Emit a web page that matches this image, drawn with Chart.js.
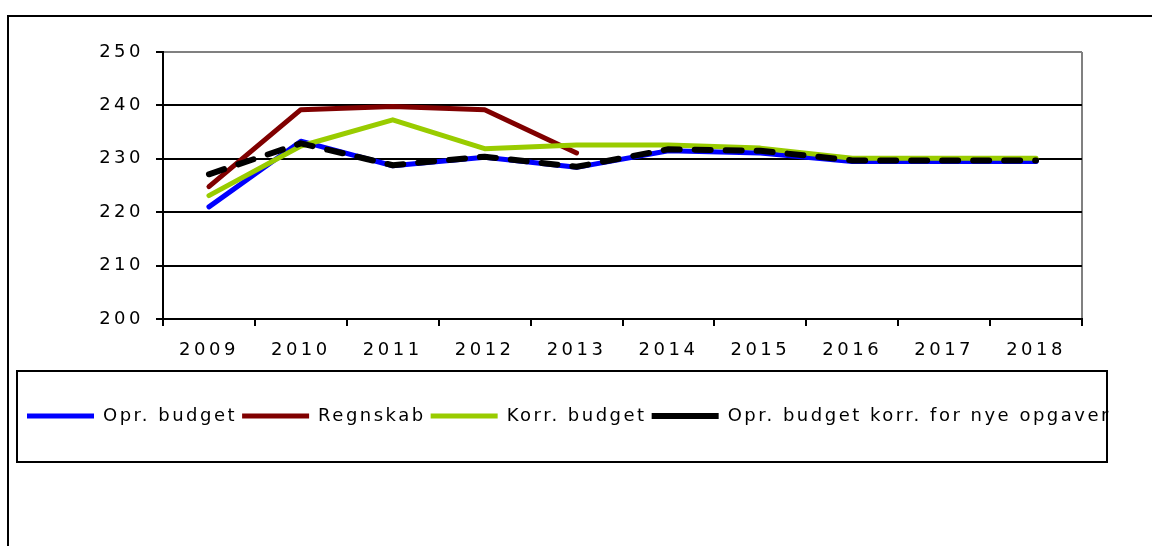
<!DOCTYPE html>
<html lang="da">
<head>
    <meta charset="UTF-8">
    <title>Opr. budget, regnskab og korr. budget</title>
    <script src="https://cdn.jsdelivr.net/npm/chart.js"></script>
    <style>
        body { margin: 0; background: #fff; }
        .wrap { position: relative; width: 1152px; height: 546px; overflow: hidden; }
        .ramme { position: absolute; left: 7px; top: 15px; width: 1300px; height: 700px; border: 2px solid #000; }
        #graf { position: absolute; left: 0; top: 0; }
    </style>
</head>
<body>
    <div class="wrap">
        <div class="ramme"></div>
        <canvas id="graf" width="1152" height="546"></canvas>
    </div>

    <script>
        const aar = ["2009", "2010", "2011", "2012", "2013", "2014", "2015", "2016", "2017", "2018"];
        const oprBudget = [221.0, 233.3, 228.7, 230.3, 228.4, 231.5, 231.1, 229.5, 229.5, 229.5];
        const regnskab = [224.8, 239.2, 239.8, 239.2, 231.1, null, null, null, null, null];
        const korrBudget = [223.1, 232.4, 237.3, 231.9, 232.6, 232.6, 232.0, 230.1, 230.1, 230.1];
        const oprKorrNye = [227.1, 232.9, 228.8, 230.4, 228.5, 231.8, 231.5, 229.7, 229.7, 229.7];
        const yTicks = [200, 210, 220, 230, 240, 250];

        const skrift = '"DejaVu Sans", Verdana, sans-serif';

        // bredere tegnafstand som i originalen
        const afstand = {
            id: 'afstand',
            beforeUpdate(chart) { chart.ctx.letterSpacing = '2.5px'; },
            beforeDraw(chart) {
                chart.ctx.letterSpacing = '2.5px';
                ['x', 'y'].forEach(id => {
                    const s = chart.scales[id];
                    if (s._spaced) return;
                    const tegn = s.drawLabels;
                    s.drawLabels = function (area) {
                        this.ctx.save();
                        this.ctx.letterSpacing = '3.5px';
                        tegn.call(this, area);
                        this.ctx.restore();
                    };
                    s._spaced = true;
                });
            },
            afterDraw(chart) {
                // ramme om forklaringen
                const L = chart.legend;
                const midt = L.top + 5 + 9;
                const ctx = chart.ctx;
                ctx.save();
                ctx.strokeStyle = '#000';
                ctx.lineWidth = 2;
                ctx.strokeRect(L.left - 5, midt - 45, 1090, 91);
                ctx.restore();
            }
        };

        new Chart(document.getElementById('graf'), {
            type: 'line',
            data: {
                labels: aar,
                datasets: [
                    { label: 'Opr. budget', data: oprBudget, borderColor: '#0000ff', backgroundColor: '#0000ff', borderWidth: 5, order: 4 },
                    { label: 'Regnskab', data: regnskab, borderColor: '#800000', backgroundColor: '#800000', borderWidth: 5, order: 3 },
                    { label: 'Korr. budget', data: korrBudget, borderColor: '#99cc00', backgroundColor: '#99cc00', borderWidth: 5, order: 2 },
                    { label: 'Opr. budget korr. for nye opgaver', data: oprKorrNye, borderColor: '#000', backgroundColor: '#000', borderWidth: 6, borderDash: [16, 15], order: 1 }
                ]
            },
            options: {
                responsive: false,
                animation: false,
                layout: { padding: { left: 22, right: 0, top: 52, bottom: 111 } },
                elements: {
                    point: { radius: 0, hoverRadius: 0 },
                    line: { tension: 0, borderCapStyle: 'round', borderJoinStyle: 'round', fill: false }
                },
                plugins: {
                    tooltip: { enabled: false },
                    legend: {
                        position: 'bottom',
                        align: 'start',
                        labels: {
                            usePointStyle: true,
                            pointStyle: 'line',
                            pointStyleWidth: 67,
                            padding: 5,
                            color: '#000',
                            font: { family: skrift, size: 18 },
                            sort: (a, b) => a.datasetIndex - b.datasetIndex
                        }
                    }
                },
                scales: {
                    x: {
                        offset: true,
                        afterFit: s => { s.height = 83; },
                        grid: {
                            offset: true,
                            lineWidth: 2,
                            color: c => c.tick ? 'rgba(0,0,0,0)' : '#808080',
                            tickColor: '#000',
                            tickLength: 7
                        },
                        border: { color: '#000', width: 2 },
                        ticks: { color: '#000', padding: 14, maxRotation: 0, font: { family: skrift, size: 18 } }
                    },
                    y: {
                        min: 200,
                        max: 250,
                        afterFit: s => { s.width = 141; },
                        afterBuildTicks: s => { s.ticks = yTicks.map(v => ({ value: v })); },
                        grid: {
                            lineWidth: 2,
                            color: c => c.tick && c.tick.value === 250 ? '#808080' : '#000',
                            tickColor: '#000',
                            tickLength: 7
                        },
                        border: { color: '#000', width: 2 },
                        ticks: { color: '#000', padding: 12, font: { family: skrift, size: 18 } }
                    },
                    hoejre: {
                        position: 'right',
                        afterFit: s => { s.width = 70; },
                        grid: { display: false },
                        border: { display: false },
                        ticks: { display: false }
                    }
                }
            },
            plugins: [afstand]
        });
    </script>
</body>
</html>
